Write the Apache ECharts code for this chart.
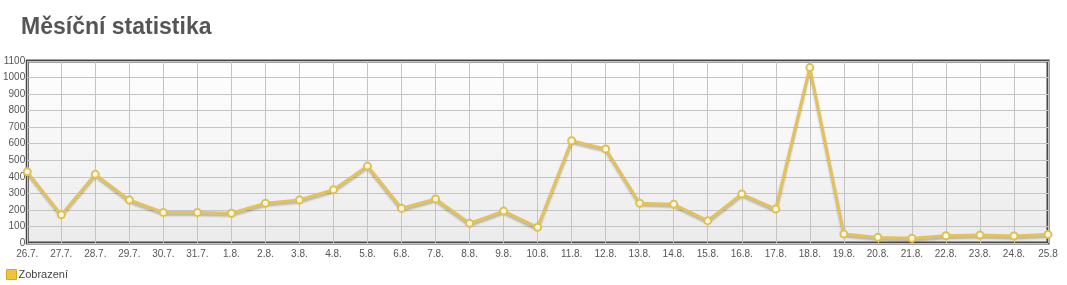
<!DOCTYPE html>
<html><head><meta charset="utf-8">
<script src="https://cdn.jsdelivr.net/npm/echarts@6/dist/echarts.min.js"></script>
<style>html,body{margin:0;padding:0;background:#fff}#c{width:1067px;height:285px}</style>
</head><body><div id="c"></div>
<script>
const categories = ["26.7.","27.7.","28.7.","29.7.","30.7.","31.7.","1.8.","2.8.","3.8.","4.8.","5.8.","6.8.","7.8.","8.8.","9.8.","10.8.","11.8.","12.8.","13.8.","14.8.","15.8.","16.8.","17.8.","18.8.","19.8.","20.8.","21.8.","22.8.","23.8.","24.8.","25.8"];
const views = [430,170,415,260,185,185,180,240,260,322,465,210,266,119,193,95,618,568,240,234,135,296,205,1060,54,34,28,44,48,42,52];
const seriesName = "Zobrazení";
const chart = echarts.init(document.getElementById('c'));
chart.setOption({
  animation:false,
  title:{text:"Měsíční statistika",left:16,top:11,textStyle:{fontFamily:"Liberation Sans, Arial",fontSize:23,fontWeight:"bold",color:"#555"}},
  legend:{left:1,top:264,itemWidth:10,itemHeight:10,itemGap:2,icon:"rect",
    itemStyle:{color:"#f2c23c",borderColor:"#d9a820",borderWidth:1},
    textStyle:{fontFamily:"Liberation Sans, Arial",fontSize:11,color:"#444",padding:[0,0,0,-3]},data:[seriesName]},
  grid:{left:26,right:19,top:61,bottom:42,show:true,borderColor:"#474747",borderWidth:3,
    backgroundColor:new echarts.graphic.LinearGradient(0,0,0,1,[{offset:0,color:"#ffffff"},{offset:1,color:"#ebebeb"}])},
  xAxis:{type:"category",data:categories,boundaryGap:false,
    axisLine:{show:false},axisTick:{show:false},
    axisLabel:{fontFamily:"Liberation Sans, Arial",fontSize:10,color:"#555",margin:6,interval:0},
    splitLine:{show:true,lineStyle:{color:"#c4c4c4",width:1}}},
  yAxis:{type:"value",min:0,max:1100,interval:100,
    axisLine:{show:false},axisTick:{show:false},
    axisLabel:{fontFamily:"Liberation Sans, Arial",fontSize:10,color:"#555",margin:2,formatter:function(v){return String(v);}},
    splitLine:{show:true,lineStyle:{color:"#c4c4c4",width:1}}},
  series:[{name:seriesName,type:"line",data:views,color:"#eec23a",
    symbol:"circle",symbolSize:7,
    lineStyle:{color:"#e3c259",width:3,shadowColor:"rgba(0,0,0,0.25)",shadowBlur:2,shadowOffsetY:2},
    itemStyle:{color:"#fffbe8",borderColor:"#e2c050",borderWidth:2}}]
});
</script></body></html>
